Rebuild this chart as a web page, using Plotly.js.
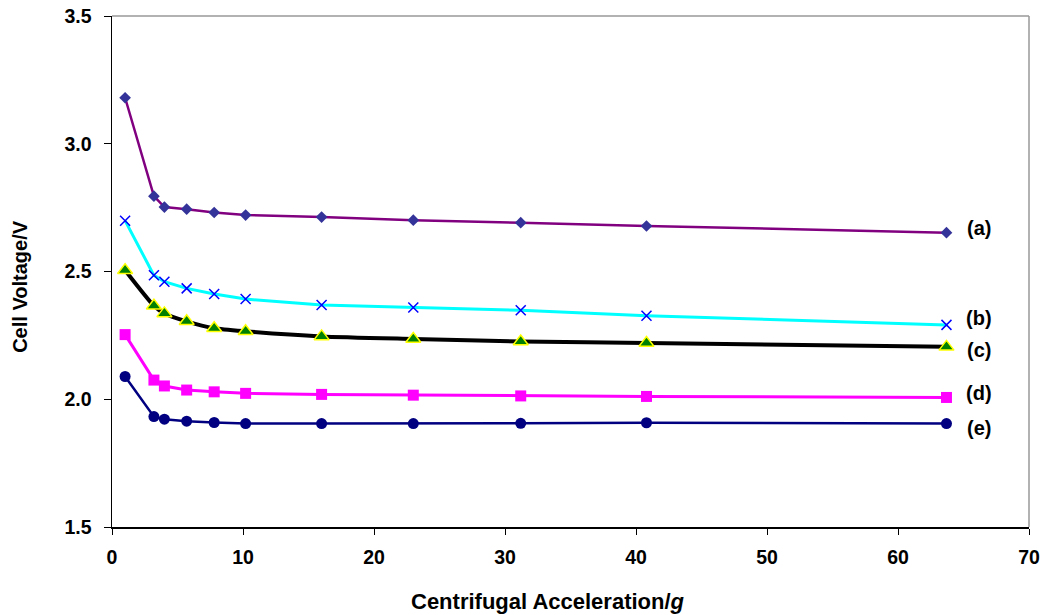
<!DOCTYPE html>
<html>
<head>
<meta charset="utf-8">
<script src="https://cdn.plot.ly/plotly-3.0.1.min.js"></script>
<style>html,body{margin:0;padding:0;background:#fff;}#chart{width:1046px;height:615px;}</style>
</head>
<body>
<div id="chart"></div>
<script>
var accel = [1.0, 3.2, 4.0, 5.7, 7.8, 10.2, 16.0, 23.0, 31.2, 40.8, 63.7];
var seriesA = [3.180, 2.795, 2.752, 2.744, 2.731, 2.721, 2.713, 2.701, 2.691, 2.678, 2.652];
var seriesB = [2.699, 2.485, 2.460, 2.434, 2.412, 2.392, 2.369, 2.359, 2.348, 2.327, 2.291];
var seriesC = [2.505, 2.366, 2.336, 2.305, 2.278, 2.266, 2.246, 2.236, 2.226, 2.220, 2.205];
var seriesD = [2.253, 2.075, 2.052, 2.036, 2.029, 2.023, 2.019, 2.016, 2.013, 2.011, 2.007];
var seriesE = [2.089, 1.932, 1.922, 1.914, 1.909, 1.905, 1.905, 1.905, 1.906, 1.908, 1.905];
var labels = ['(a)', '(b)', '(c)', '(d)', '(e)'];
var labelY = [2.670, 2.318, 2.193, 2.024, 1.887];
var labelX = 66.2;
var xTitle = 'Centrifugal Acceleration/<i>g</i>';
var yTitle = 'Cell Voltage/V';

var FONT = 'Liberation Sans, Arial, sans-serif';

var traces = [
  {x: accel, y: seriesA, mode: 'lines+markers', line: {color: '#800080', width: 2.5},
   marker: {symbol: 'diamond', size: 9, color: '#333399'}},
  {x: accel, y: seriesB, mode: 'lines+markers', line: {color: '#00FFFF', width: 3},
   marker: {symbol: 'x-thin', size: 10, color: '#0000FF', line: {color: '#0000FF', width: 1.5}}},
  {x: accel, y: seriesC, mode: 'lines+markers', line: {color: '#000000', width: 4, shape: 'spline', smoothing: 0.6},
   marker: {symbol: 'triangle-up', size: 13, color: '#008000', line: {color: '#FFFF00', width: 1.5}}},
  {x: accel, y: seriesD, mode: 'lines+markers', line: {color: '#FF00FF', width: 3},
   marker: {symbol: 'square', size: 11, color: '#FF00FF'}},
  {x: accel, y: seriesE, mode: 'lines+markers', line: {color: '#000080', width: 2.5},
   marker: {symbol: 'circle', size: 11, color: '#000080'}}
];

var annotations = labels.map(function (t, i) {
  return {x: labelX, y: labelY[i], xref: 'x', yref: 'y', text: '<b>' + t + '</b>',
    showarrow: false, xanchor: 'center', yanchor: 'middle',
    font: {family: FONT, size: 20, color: '#000'}};
});
annotations.push({x: 0.475, y: -0.145, xref: 'paper', yref: 'paper', text: '<b>' + xTitle + '</b>',
  showarrow: false, xanchor: 'center', yanchor: 'middle', font: {family: FONT, size: 22, color: '#000'}});
annotations.push({x: -0.1003, y: 0.47, xref: 'paper', yref: 'paper', text: '<b>' + yTitle + '</b>',
  textangle: -90, showarrow: false, xanchor: 'center', yanchor: 'middle', font: {family: FONT, size: 20, color: '#000'}});

var layout = {
  width: 1046, height: 615,
  margin: {l: 112, r: 17, t: 16, b: 88},
  paper_bgcolor: '#fff', plot_bgcolor: '#fff',
  showlegend: false,
  font: {family: FONT, color: '#000'},
  xaxis: {
    range: [0, 70], dtick: 10, tick0: 0, showgrid: false, zeroline: false,
    showline: true, linecolor: '#000', linewidth: 1.5,
    ticks: 'outside', ticklen: 6, tickcolor: '#000', tickwidth: 1,
    tickfont: {size: 19.5, family: FONT},
    tickprefix: '<b>', ticksuffix: '</b>', ticklabelstandoff: 6
  },
  yaxis: {
    range: [1.5, 3.5], dtick: 0.5, tick0: 1.5, tickformat: '.1f', showgrid: false, zeroline: false,
    showline: true, linecolor: '#000', linewidth: 1.5,
    ticks: 'outside', ticklen: 7, tickcolor: '#000', tickwidth: 1,
    tickfont: {size: 19.5, family: FONT},
    tickprefix: '<b>', ticksuffix: '</b>', ticklabelstandoff: 8
  },
  annotations: annotations,
  shapes: [
    {type: 'line', xref: 'paper', yref: 'paper', x0: 0, x1: 1, y0: 1, y1: 1, line: {color: '#999', width: 1.5}},
    {type: 'line', xref: 'paper', yref: 'paper', x0: 1, x1: 1, y0: 0, y1: 1, line: {color: '#999', width: 1.5}}
  ]
};

Plotly.newPlot('chart', traces, layout, {displayModeBar: false, staticPlot: true});
</script>
</body>
</html>
